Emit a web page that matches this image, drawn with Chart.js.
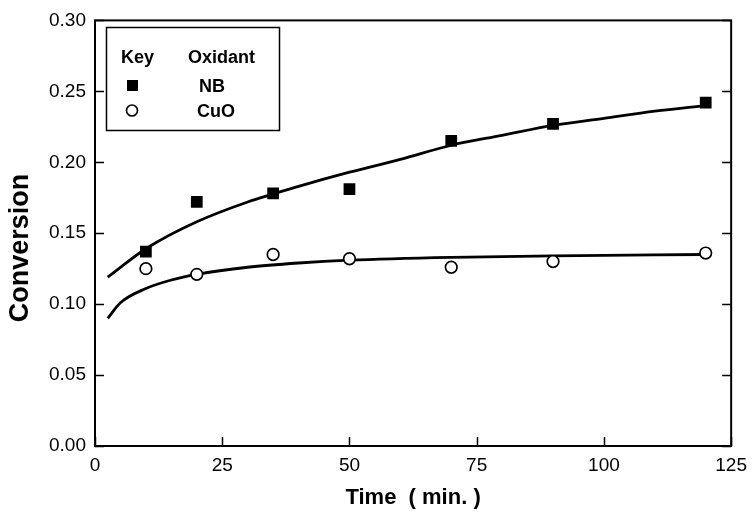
<!DOCTYPE html>
<html>
<head>
<meta charset="utf-8">
<script src="https://cdn.jsdelivr.net/npm/chart.js@4"></script>
<style>
  html, body { margin: 0; padding: 0; background: #fff; }
  #wrap { width: 755px; height: 514px; }
</style>
</head>
<body>
<div id="wrap"><canvas id="myChart" width="755" height="514"></canvas></div>
<script>
// measured points
const nbTime = [10, 20, 35, 50, 70, 90, 120];
const nbConv = [0.137, 0.172, 0.178, 0.181, 0.215, 0.227, 0.242];
const cuoTime = [10, 20, 35, 50, 70, 90, 120];
const cuoConv = [0.125, 0.121, 0.135, 0.132, 0.126, 0.130, 0.136];

// fitted curves
const nbFitTime = [2.5, 10, 20, 30, 40, 50, 60, 70, 80, 90, 100, 110, 120];
const nbFitConv = [0.119, 0.139, 0.158, 0.172, 0.183, 0.193, 0.202, 0.212, 0.219, 0.226, 0.231, 0.236, 0.240];
const cuoFitTime = [2.5, 5, 10, 15, 20, 30, 40, 50, 70, 90, 120];
const cuoFitConv = [0.090, 0.101, 0.111, 0.117, 0.121, 0.126, 0.129, 0.131, 0.133, 0.134, 0.135];

const xTicks = [0, 25, 50, 75, 100, 125];
const yTicks = [0, 0.05, 0.10, 0.15, 0.20, 0.25, 0.30];

const FONT = 'Liberation Sans, Arial, Helvetica, sans-serif';

function pts(xs, ys) {
    return xs.map((x, i) => ({x: x, y: ys[i]}));
}

// frame, inward ticks, y title and the key box
const decor = {
    id: 'decor',
    afterDraw(chart) {
        const c = chart.ctx;
        const a = chart.chartArea;
        const xs = chart.scales.x, ys = chart.scales.y;
        c.save();
        c.strokeStyle = '#000';
        c.lineWidth = 2;
        c.strokeRect(a.left, a.top, a.right - a.left, a.bottom - a.top);
        c.lineWidth = 1.5;
        c.beginPath();
        yTicks.forEach(v => {
            const py = Math.round(ys.getPixelForValue(v)) + 0.5;
            c.moveTo(a.left, py); c.lineTo(a.left + 9, py);
            c.moveTo(a.right, py); c.lineTo(a.right - 9, py);
        });
        xTicks.forEach(v => {
            const px = Math.round(xs.getPixelForValue(v)) + 0.5;
            c.moveTo(px, a.bottom); c.lineTo(px, a.bottom - 9);
        });
        c.stroke();

        // y axis title
        c.fillStyle = '#000';
        c.save();
        c.translate(21, 248);
        c.rotate(-Math.PI / 2);
        c.font = 'bold 27px ' + FONT;
        c.textAlign = 'center';
        c.textBaseline = 'middle';
        c.fillText('Conversion', 0, 0);
        c.restore();

        // key
        c.lineWidth = 1.5;
        c.strokeRect(106.5, 27.5, 173, 103);
        c.font = 'bold 18px ' + FONT;
        c.textBaseline = 'alphabetic';
        c.textAlign = 'left';
        c.fillText('Key', 121, 63);
        c.fillText('Oxidant', 188, 63);
        c.fillText('NB', 199, 92);
        c.fillText('CuO', 197, 117);
        c.fillRect(127, 80, 11, 11);
        c.beginPath();
        c.arc(132, 110.5, 5.5, 0, Math.PI * 2);
        c.lineWidth = 1.6;
        c.stroke();
        c.restore();
    }
};

const ctx = document.getElementById('myChart');

new Chart(ctx, {
    type: 'scatter',
    data: {
        datasets: [
            {
                label: 'NB',
                data: pts(nbTime, nbConv),
                pointStyle: 'rect',
                pointRadius: 8.3,
                backgroundColor: '#000',
                borderColor: '#000',
                borderWidth: 0
            },
            {
                label: 'CuO',
                data: pts(cuoTime, cuoConv),
                pointStyle: 'circle',
                pointRadius: 5.8,
                backgroundColor: '#fff',
                borderColor: '#000',
                borderWidth: 1.7
            },
            {
                label: 'NB fit',
                data: pts(nbFitTime, nbFitConv),
                showLine: true,
                pointRadius: 0,
                borderColor: '#000',
                borderWidth: 2.8,
                cubicInterpolationMode: 'monotone'
            },
            {
                label: 'CuO fit',
                data: pts(cuoFitTime, cuoFitConv),
                showLine: true,
                pointRadius: 0,
                borderColor: '#000',
                borderWidth: 2.8,
                cubicInterpolationMode: 'monotone'
            }
        ]
    },
    options: {
        responsive: false,
        animation: false,
        layout: { padding: { top: 19, right: 21, left: 0, bottom: 0 } },
        plugins: {
            legend: { display: false },
            tooltip: { enabled: false }
        },
        scales: {
            x: {
                type: 'linear',
                min: 0, max: 125,
                afterBuildTicks: s => { s.ticks = xTicks.map(v => ({value: v})); },
                afterFit: s => { s.height = 68; },
                grid: { display: false, drawTicks: false },
                border: { display: false },
                ticks: {
                    color: '#000',
                    font: { family: FONT, size: 19 },
                    padding: 8,
                    maxRotation: 0,
                    callback: v => String(v)
                },
                title: {
                    display: true,
                    text: 'Time  ( min. )',
                    color: '#000',
                    font: { family: FONT, size: 22, weight: 'bold' },
                    padding: { top: 0, bottom: 3 }
                }
            },
            y: {
                type: 'linear',
                min: 0, max: 0.30,
                afterBuildTicks: s => { s.ticks = yTicks.map(v => ({value: v})); },
                afterFit: s => { s.width = 95; },
                grid: { display: false, drawTicks: false },
                border: { display: false },
                ticks: {
                    color: '#000',
                    font: { family: FONT, size: 19 },
                    padding: 9,
                    callback: v => v.toFixed(2)
                },
                title: { display: false }
            }
        }
    },
    plugins: [decor]
});
</script>
</body>
</html>
